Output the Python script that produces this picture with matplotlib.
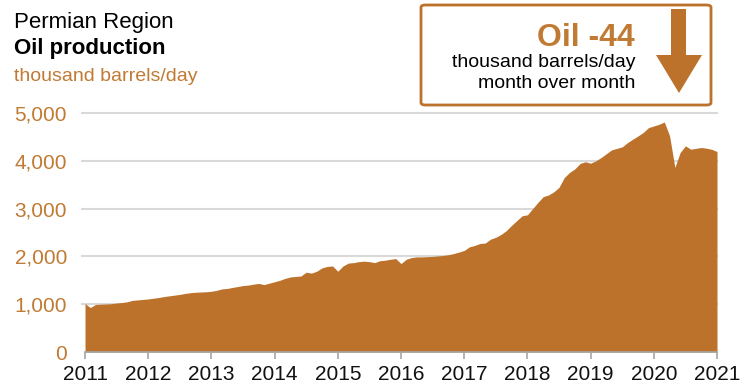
import numpy as np
import matplotlib
matplotlib.use('Agg')
import matplotlib.pyplot as plt
from matplotlib.patches import Polygon, FancyBboxPatch

plt.rcParams['font.family'] = ['Liberation Sans', 'DejaVu Sans']

# monthly oil production, thousand barrels/day, Jan 2011 - Jan 2021
oil = [
    1015, 930, 995, 1000, 1005, 1010, 1025, 1035, 1050, 1080, 1090, 1100,      # 2011
    1110, 1125, 1140, 1160, 1175, 1190, 1205, 1225, 1240, 1250, 1255, 1260,    # 2012
    1270, 1290, 1320, 1330, 1350, 1370, 1390, 1400, 1420, 1435, 1410, 1440,    # 2013
    1470, 1500, 1540, 1570, 1580, 1590, 1670, 1650, 1690, 1760, 1790, 1800,    # 2014
    1690, 1800, 1860, 1870, 1890, 1900, 1890, 1870, 1910, 1920, 1940, 1955,    # 2015
    1850, 1940, 1975, 1990, 1990, 1995, 2000, 2010, 2020, 2035, 2060, 2090,    # 2016
    2125, 2200, 2230, 2270, 2280, 2360, 2400, 2460, 2540, 2650, 2750, 2850,    # 2017
    2870, 3000, 3130, 3250, 3285, 3350, 3444, 3650, 3756, 3830, 3944, 3980,    # 2018
    3950, 4000, 4069, 4150, 4229, 4260, 4292, 4380, 4452, 4520, 4594, 4694,    # 2019
    4729, 4764, 4812, 4521, 3861, 4173, 4313, 4243, 4260, 4278, 4264, 4240,    # 2020
    4194,                                                                      # 2021
]
years = list(range(2011, 2022))
yticks = [0, 1000, 2000, 3000, 4000, 5000]
change = -44

ORANGE = '#BC722B'
TXT_OR = '#C17A33'

t = 2011 + np.arange(len(oil)) / 12

fig = plt.figure(figsize=(7.4, 3.89), dpi=100)
W, H = 740, 389
ax = fig.add_axes([85 / W, 1 - 352 / H, (717 - 85) / W, (352 - 113) / H])

ax.fill_between(t, 0, oil, color=ORANGE, lw=0, zorder=3)
ax.set_xlim(2011, 2021)
ax.set_ylim(0, 5000)
ax.set_yticks(yticks)
ax.set_yticklabels([f'{v:,}' for v in yticks], color=TXT_OR, fontsize=15)
ax.set_xticks(years)
ax.set_xticklabels([str(y) for y in years], fontsize=15, color='#111111')
for v in yticks[1:]:
    ax.axhline(v, color='#D9D9D9', lw=1.5, zorder=1, xmin=-0.004, clip_on=False)
for s in ['top', 'right', 'left']:
    ax.spines[s].set_visible(False)
ax.spines['bottom'].set_color('#A6A6A6')
ax.spines['bottom'].set_linewidth(1.2)
ax.spines['bottom'].set_zorder(4)
ax.tick_params(axis='y', length=0, pad=13)
ax.tick_params(axis='x', length=5, color='#A6A6A6', width=1.2, pad=4)


def fxy(x, y):
    return (x / W, 1 - y / H)


fig.text(*fxy(14, 28), 'Permian Region', fontsize=16, va='baseline')
fig.text(*fxy(14, 54), 'Oil production', fontsize=16, weight='bold', va='baseline')
fig.text(*fxy(14, 81), 'thousand barrels/day', fontsize=14, color=TXT_OR, va='baseline')

# callout box
x0, y0 = fxy(421, 105)
x1, y1 = fxy(711, 5)
box = FancyBboxPatch((x0, y0), x1 - x0, y1 - y0, boxstyle='round,pad=0,rounding_size=0.006',
                     transform=fig.transFigure, fill=False, ec=ORANGE, lw=2)
fig.patches.append(box)
fig.text(*fxy(635, 46), f'Oil {change}', fontsize=23, weight='bold', color=TXT_OR,
         ha='right', va='baseline')
fig.text(*fxy(635, 67), 'thousand barrels/day', fontsize=14, ha='right', va='baseline')
fig.text(*fxy(635, 88), 'month over month', fontsize=14, ha='right', va='baseline')

arrow = [fxy(671, 9), fxy(686, 9), fxy(686, 55), fxy(702, 55), fxy(679, 93),
         fxy(656, 55), fxy(671, 55)]
fig.patches.append(Polygon(arrow, closed=True, transform=fig.transFigure,
                           fc=ORANGE, ec='none'))

fig.savefig('out.png', dpi=100)
